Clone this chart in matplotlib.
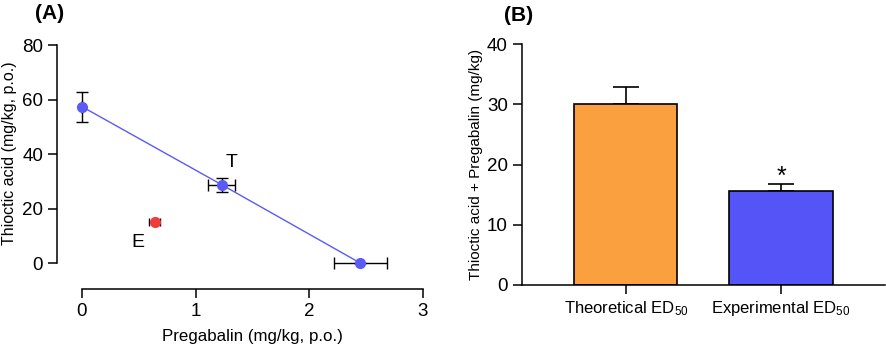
import numpy as np
import matplotlib
matplotlib.use("Agg")
import matplotlib.pyplot as plt

plt.rcParams['font.family'] = ['Liberation Sans', 'DejaVu Sans']
plt.rcParams['mathtext.fontset'] = 'custom'
plt.rcParams['mathtext.rm'] = 'Liberation Sans'

# panel A: isobologram
line_x = [0.0, 1.23, 2.45]
line_y = [57.5, 28.8, 0.0]
line_xerr = [0.0, 0.12, 0.23]
line_yerr = [5.5, 2.6, 0.0]
exp_x = [0.64]
exp_y = [15.0]
exp_xerr = [0.05]

# panel B: ED50 bars
bar_labels = ['Theoretical ED$\\mathregular{_{50}}$', 'Experimental ED$\\mathregular{_{50}}$']
bar_vals = [30.0, 15.6]
bar_err = [2.8, 1.1]
bar_colors = ['#fba03f', '#5555f7']

blue = '#5a5af5'
red = '#f03c3c'

fig = plt.figure(figsize=(8.86, 3.49), dpi=100)

# ---- (A)
ax1 = fig.add_axes([0.0643, 0.172, 0.413, 0.702])
ax1.plot(line_x, line_y, color=blue, lw=1.0, zorder=2)
ax1.errorbar(line_x, line_y, xerr=line_xerr, yerr=line_yerr, fmt='o', color=blue,
             ms=7, ecolor='black', elinewidth=1.0, capsize=4, capthick=1.0, zorder=3)
ax1.errorbar(exp_x, exp_y, xerr=exp_xerr, fmt='o', color=red,
             ms=7, ecolor='black', elinewidth=1.0, capsize=3, capthick=1.0, zorder=3)
ax1.text(1.32, 36.9, 'T', fontsize=14, ha='center', va='center')
ax1.text(0.49, 7.7, 'E', fontsize=14, ha='center', va='center')

ax1.set_xlim(-0.219, 2.995)
ax1.set_ylim(-9.5, 80.5)
ax1.set_xticks([0, 1, 2, 3])
ax1.set_yticks([0, 20, 40, 60, 80])
ax1.spines['top'].set_visible(False)
ax1.spines['right'].set_visible(False)
ax1.spines['left'].set_bounds(0, 80)
ax1.spines['bottom'].set_bounds(0, 3)
ax1.set_xlabel('Pregabalin (mg/kg, p.o.)', fontsize=12.2)
ax1.set_ylabel('Thioctic acid (mg/kg, p.o.)', fontsize=11.5)
ax1.xaxis.set_label_coords(0.534, -0.165)
ax1.yaxis.set_label_coords(-0.108, 0.555)
fig.text(0.056, 0.962, '(A)', fontsize=15, fontweight='bold', ha='center', va='center')

# ---- (B)
ax2 = fig.add_axes([0.589, 0.1834, 0.41, 0.6905])
pos = np.arange(len(bar_vals))
ax2.bar(pos, bar_vals, width=0.665, color=bar_colors, edgecolor='black', linewidth=1.2, zorder=2)
ax2.errorbar(pos, bar_vals, yerr=[[0, 0], bar_err], fmt='none', ecolor='black',
             elinewidth=1.2, capsize=9.5, capthick=1.2, zorder=1)
ax2.text(pos[1], bar_vals[1] + bar_err[1] + 1.3, '*', fontsize=18, ha='center', va='center')

ax2.set_xlim(-0.67, 1.67)
ax2.set_ylim(0, 40)
ax2.set_yticks([0, 10, 20, 30, 40])
ax2.set_xticks(pos)
ax2.set_xticklabels(bar_labels)
ax2.spines['top'].set_visible(False)
ax2.spines['right'].set_visible(False)
ax2.set_ylabel('Thioctic acid + Pregabalin (mg/kg)', fontsize=11, labelpad=3)
fig.text(0.585, 0.955, '(B)', fontsize=15, fontweight='bold', ha='center', va='center')

for ax in (ax1, ax2):
    for s in ax.spines.values():
        s.set_linewidth(1.1)
    ax.tick_params(width=1.1, length=6.5, labelsize=13.5, colors='black')
ax2.tick_params(axis='x', labelsize=12)

fig.savefig('out.png', dpi=100)
